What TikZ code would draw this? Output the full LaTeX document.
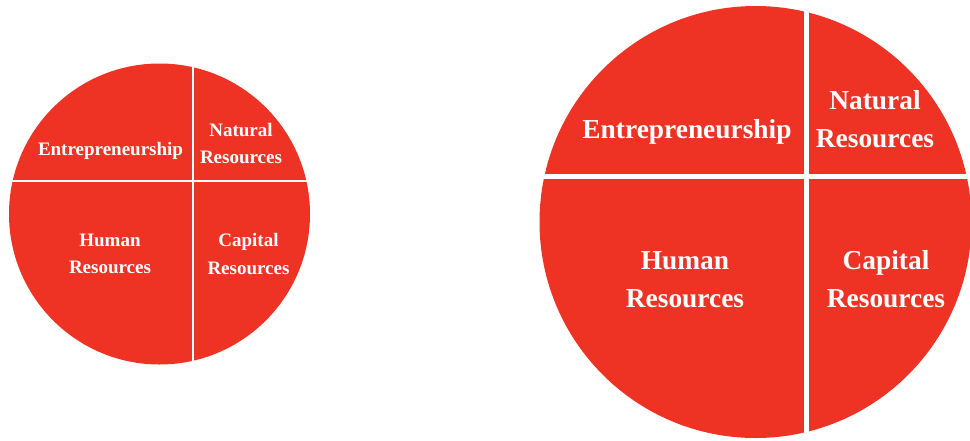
\documentclass[tikz,border=0pt]{standalone}
\usepackage{fontspec}
\setmainfont{Liberation Serif}
\definecolor{pie}{RGB}{238,50,36}
\tikzset{
  disc/.style={fill=pie, draw=none},
  divider/.style={draw=white, line cap=butt},
  small/.style={text=white, inner sep=0pt, align=center,
    font=\bfseries\fontsize{19}{27.5}\selectfont},
  large/.style={text=white, inner sep=0pt, align=center,
    font=\bfseries\fontsize{27.4}{38}\selectfont},
}
\begin{document}
\begin{tikzpicture}[x=1pt, y=-1pt]
  \useasboundingbox (0,0) rectangle (970,440);
  \clip (0,0) rectangle (970,440);

  % smaller pie
  \fill[disc] (159.5,214) circle[radius=150.5];
  \draw[divider, line width=2.6pt] (193,60) -- (193,368);
  \draw[divider, line width=2.6pt] (5,181) -- (315,181);
  \node[small] (se) at (110.5,150.5) {Entrepreneurship};
  \node[small] (sn) at (241,143.5) {Natural\\Resources};
  \node[small] (sh) at (110,254) {Human\\Resources};
  \node[small] (sc) at (248.5,254) {Capital\\Resources};

  % larger pie
  \fill[disc] (755.5,222) circle[radius=216];
  \draw[divider, line width=5pt] (806.5,0) -- (806.5,440);
  \draw[divider, line width=5pt] (535,176) -- (975,176);
  \node[large] (le) at (687,131.5) {Entrepreneurship};
  \node[large] (ln) at (875,119.5) {Natural\\Resources};
  \node[large] (lh) at (685,279.5) {Human\\Resources};
  \node[large] (lc) at (886,279.5) {Capital\\Resources};
\end{tikzpicture}
\end{document}
